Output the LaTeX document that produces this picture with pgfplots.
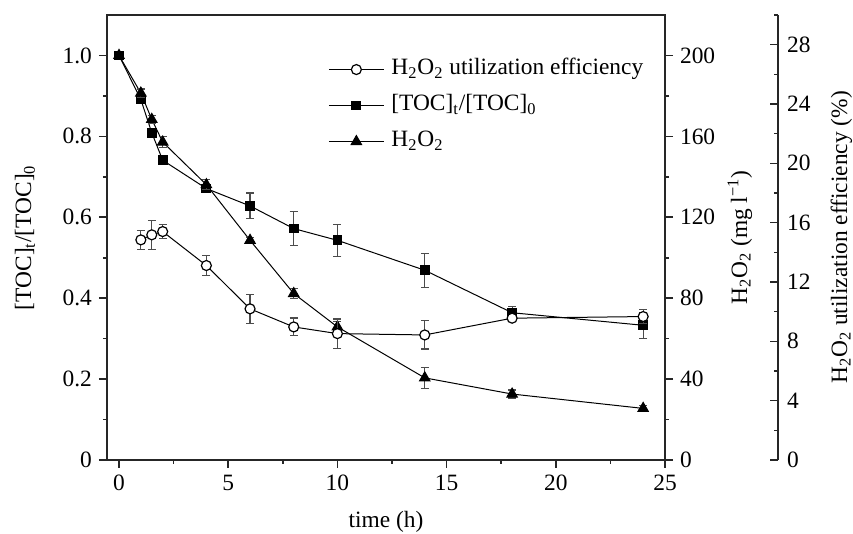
\documentclass[border=0pt]{standalone}
\usepackage{pgfplots}
\pgfplotsset{compat=1.18}
\usepackage{fontspec}
\setmainfont{Liberation Serif}

\pgfplotsset{
  every axis/.append style={
    font=\fontsize{11.7}{14}\selectfont,
    scale only axis, width=279pt, height=222.5pt,
    xmin=-0.55, xmax=25,
    /pgf/number format/assume math mode=true,
    axis line style={line width=0.9pt, black!85},
    every tick/.style={line width=0.8pt, black!85},
    major tick length=4pt, minor tick length=2pt,
  },
  ebar/.style={error bars/.cd, y dir=both, y explicit,
    error bar style={line width=0.6pt, black!70},
    error mark options={rotate=90, mark size=2pt, line width=0.6pt, black!70}},
}

\begin{document}
\begin{tikzpicture}
\path (-53.5pt,-37pt) rectangle (373pt,230pt);

% Main axis: TOC ratio (left)
\begin{axis}[
  ymin=0, ymax=1.1,
  ytick={0,0.2,0.4,0.6,0.8,1.0},
  yticklabels={0,0.2,0.4,0.6,0.8,1.0},
  minor ytick={0.1,0.3,0.5,0.7,0.9},
  xtick={0,5,10,15,20,25},
  minor xtick={2.5,7.5,12.5,17.5,22.5},
  tick pos=left, tick align=outside,
  xlabel={time (h)},
  ylabel={[TOC]\textsubscript{t}/[TOC]\textsubscript{0}},
  x label style={at={(axis description cs:0.5,-0.152)}, anchor=base, inner sep=0pt, text depth=0pt},
  y label style={at={(axis description cs:-0.147,0.5)}, anchor=center, inner sep=0pt},
  legend cell align=left,
  legend image code/.code={
    \draw[#1, mark=none] (0pt,0pt) -- (27.5pt,0pt);
    \draw[#1, only marks] plot coordinates {(13.75pt,0pt)};
  },
  legend style={at={(axis description cs:0.396,0.912)}, anchor=north west,
    draw=none, fill=none, inner sep=0pt, row sep=3pt,
    nodes={text height=8pt, text depth=3pt, inner ysep=2pt, inner xsep=3.5pt}},
]
\addlegendimage{black, line width=0.5pt, mark=*, mark options={fill=white, line width=0.6pt}, mark size=2.5pt}
\addlegendentry{H\textsubscript{2}O\textsubscript{2} utilization efficiency}
\addplot[black, line width=0.5pt, mark=square*, mark size=2.2pt, mark options={fill=black}, ebar]
  coordinates {
  (0,1.0) +- (0,0)
  (1,0.891) +- (0,0.008)
  (1.5,0.809) +- (0,0.008)
  (2,0.741) +- (0,0.008)
  (4,0.671) +- (0,0.01)
  (6,0.628) +- (0,0.032)
  (8,0.572) +- (0,0.042)
  (10,0.543) +- (0,0.039)
  (14,0.469) +- (0,0.042)
  (18,0.364) +- (0,0.015)
  (24,0.333) +- (0,0.032)
  };
\addlegendentry{[TOC]\textsubscript{t}/[TOC]\textsubscript{0}}
\addlegendimage{black, line width=0.5pt, mark=triangle*, mark size=3pt, mark options={fill=black}}
\addlegendentry{H\textsubscript{2}O\textsubscript{2}}
\end{axis}

% H2O2 axis (first right axis)
\begin{axis}[
  ymin=0, ymax=220,
  axis y line*=right, axis x line=none,
  ytick={0,40,80,120,160,200},
  minor ytick={20,60,100,140,180},
  tick align=outside,
  ylabel={H\textsubscript{2}O\textsubscript{2} (mg l\textsuperscript{−1})},
  y label style={at={(axis description cs:1.134,0.5)}, anchor=center, inner sep=0pt},
]
\addplot[black, line width=0.5pt, mark=triangle*, mark size=3pt, mark options={fill=black}, ebar]
  coordinates {
  (0,200) +- (0,0)
  (1,181.4) +- (0,2)
  (1.5,168.4) +- (0,2)
  (2,157.2) +- (0,2.8)
  (4,136.1) +- (0,2.5)
  (6,108.6) +- (0,1.5)
  (8,82.3) +- (0,2.5)
  (10,65.8) +- (0,2.5)
  (14,40.6) +- (0,5.2)
  (18,32.6) +- (0,2)
  (24,25.5) +- (0,1.5)
  };
\end{axis}

% Efficiency data (hidden axis, 0-30)
\begin{axis}[
  ymin=0, ymax=30, hide axis,
]
\addplot[black, line width=0.5pt, mark=*, mark size=2.5pt, mark options={fill=white, line width=0.6pt}, ebar]
  coordinates {
  (1,14.84) +- (0,0.65)
  (1.5,15.18) +- (0,0.99)
  (2,15.40) +- (0,0.47)
  (4,13.11) +- (0,0.68)
  (6,10.19) +- (0,0.98)
  (8,8.97) +- (0,0.6)
  (10,8.52) +- (0,0.98)
  (14,8.43) +- (0,0.95)
  (18,9.56) +- (0,0.2)
  (24,9.67) +- (0,0.45)
  };
\end{axis}

% Efficiency axis (offset right axis)
\begin{axis}[
  at={(56.5pt,0pt)},
  ymin=0, ymax=30,
  axis y line*=right, axis x line=none,
  ytick={0,4,8,12,16,20,24,28},
  minor ytick={2,6,10,14,18,22,26,30},
  tick align=inside,
  yticklabel style={xshift=1pt},
  ylabel={H\textsubscript{2}O\textsubscript{2} utilization efficiency (\%)},
  y label style={at={(axis description cs:1.1237,0.5)}, anchor=base, inner sep=0pt, text depth=0pt},
]
\end{axis}
\end{tikzpicture}
\end{document}
